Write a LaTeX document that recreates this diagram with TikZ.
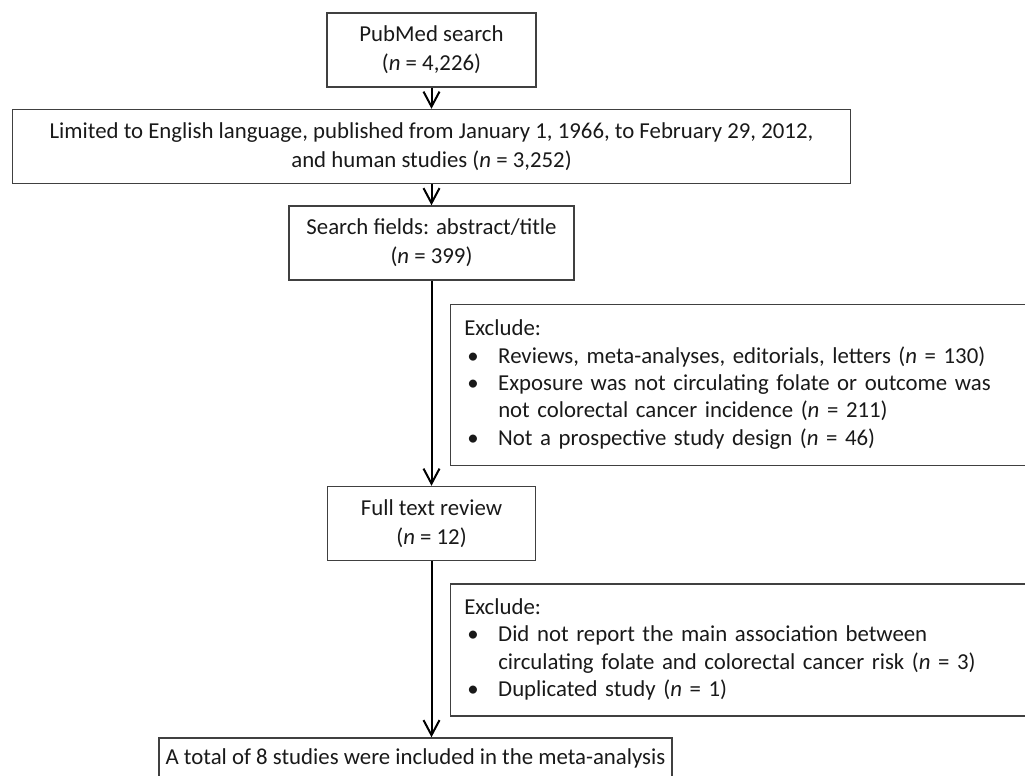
\documentclass[tikz,border=0pt]{standalone}
\usepackage{fontspec}
\setmainfont{Carlito}
\usetikzlibrary{arrows.meta,positioning}
\tikzset{every picture/.style={
  >={Straight Barb[length=7.5pt,width=8pt]}   % Open V arrow heads.
  }
}

\begin{document}
\begin{tikzpicture}[
    node distance=10.5pt,
    stage/.style={
      draw=black!75,
      line width=0.75pt,
      text=black!90,
      minimum height=37pt,
      align=center,
      font=\fontsize{11.4}{14.5}\selectfont
    },
    excl/.style={
      draw=black!75,
      line width=0.75pt,
      text=black!90,
      anchor=north west,
      text width=300pt,
      inner xsep=7pt,
      align=left,
      font=\fontsize{11.4}{13.7}\selectfont
    },
    flow/.style={->,line width=1pt}]

    % The figure is cut off at the right and at the bottom.
    \useasboundingbox (0,0) rectangle (512.5pt,-388pt);
    \clip (0,0) rectangle (512.5pt,-388pt);

    % Main stages of the search.
    \node[stage,minimum width=104.5pt] (pubmed) at (215.75pt,-25pt)
      {PubMed search\\(\textit{n} = 4,226)};
    \node[stage,minimum width=419pt,below=of pubmed] (limit)
      {Limited to English language, published from January 1, 1966, to February 29, 2012,\\
       and human studies (\textit{n} = 3,252)};
    \node[stage,minimum width=142.5pt,below=of limit] (fields)
      {Search fields: abstract/title\\(\textit{n} = 399)};
    \node[stage,minimum width=104pt,below=102.5pt of fields] (fulltext)
      {Full text review\\(\textit{n} = 12)};
    \node[stage,minimum width=252pt,below=88pt of fulltext,xshift=-8pt] (total)
      {A total of 8 studies were included in the meta-analysis\\\strut};

    % The two lists of excluded records.
    \node[excl,minimum height=80.5pt,below right=11.5pt and 9pt of fields.south]
      (excl1) {\begin{tabular}{@{}p{17pt}@{}l@{}}
        \multicolumn{2}{@{}l}{Exclude:}\\
        \hspace{1.5pt}\textbullet & Reviews, meta-analyses, editorials, letters (\textit{n} = 130)\\
        \hspace{1.5pt}\textbullet & Exposure was not circulating folate or outcome was\\
         & not colorectal cancer incidence (\textit{n} = 211)\\
        \hspace{1.5pt}\textbullet & Not a prospective study design (\textit{n} = 46)
      \end{tabular}};
    \node[excl,minimum height=66pt,below right=11pt and 9pt of fulltext.south]
      (excl2) {\begin{tabular}{@{}p{17pt}@{}l@{}}
        \multicolumn{2}{@{}l}{Exclude:}\\
        \hspace{1.5pt}\textbullet & Did not report the main association between\\
         & circulating folate and colorectal cancer risk (\textit{n} = 3)\\
        \hspace{1.5pt}\textbullet & Duplicated study (\textit{n} = 1)
      \end{tabular}};

    % Arrows between the stages.
    \draw[flow] (pubmed.south) -- (limit.north);
    \draw[flow] (limit.south) -- (fields.north);
    \draw[flow] (fields.south) -- (fulltext.north);
    \draw[flow] (fulltext.south) -- (fulltext.south |- total.north);
\end{tikzpicture}
\end{document}
